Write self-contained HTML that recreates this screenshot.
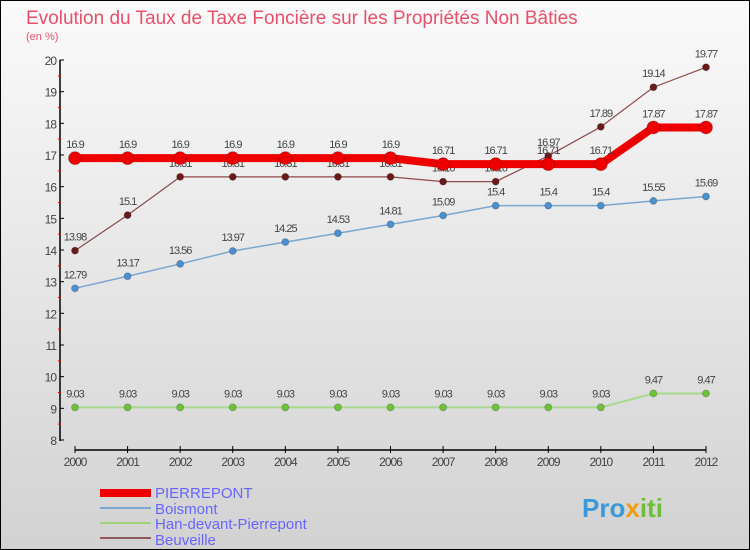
<!DOCTYPE html>
<html><head><meta charset="utf-8"><style>
body{margin:0;width:750px;height:550px;overflow:hidden;font-family:"Liberation Sans",sans-serif}
#c{position:absolute;left:0;top:0;width:748px;height:548px;border:1px solid #000;background:linear-gradient(#fafafa,#d2d2d2)}
</style></head><body>
<div id="c">
<svg id="s" width="750" height="550" style="position:absolute;left:-1px;top:-1px">
<text x="26" y="24" font-size="19" fill="#e8506a">Evolution du Taux de Taxe Foncière sur les Propriétés Non Bâties</text>
<text x="26" y="40" font-size="11" fill="#e8506a">(en %)</text>
<g id="axes"></g><g id="series"></g>
<g font-size="15" fill="#6666ff">
<rect x="100" y="489" width="51" height="8" fill="#e00"/>
<text x="155" y="498">PIERREPONT</text>
<rect x="100" y="507" width="51" height="2" fill="#7aa6cf"/>
<text x="155" y="514">Boismont</text>
<rect x="100" y="522" width="51" height="2" fill="#9fd27a"/>
<text x="155" y="529">Han-devant-Pierrepont</text>
<rect x="100" y="537" width="51" height="2" fill="#8e5a5a"/>
<text x="155" y="545">Beuveille</text>
</g>
<text x="582" y="517" font-size="26" font-weight="bold" fill="#3a9ad9">Pro<tspan fill="#f39c12">x</tspan><tspan fill="#6dbf3a">iti</tspan></text>
</svg></div>
<script>
const years=[2000,2001,2002,2003,2004,2005,2006,2007,2008,2009,2010,2011,2012];
const yTicks=[8,9,10,11,12,13,14,15,16,17,18,19,20];
const pierrepont=[16.9,16.9,16.9,16.9,16.9,16.9,16.9,16.71,16.71,16.71,16.71,17.87,17.87];
const boismont=[12.79,13.17,13.56,13.97,14.25,14.53,14.81,15.09,15.4,15.4,15.4,15.55,15.69];
const han=[9.03,9.03,9.03,9.03,9.03,9.03,9.03,9.03,9.03,9.03,9.03,9.47,9.47];
const beuveille=[13.98,15.1,16.31,16.31,16.31,16.31,16.31,16.16,16.16,16.97,17.89,19.14,19.77];
const NS="http://www.w3.org/2000/svg";
function X(i){return 75+(706-75)*i/(years.length-1);}
function Y(v){return 440-(v-8)*(380/12);}
function mk(t,a,p){const e=document.createElementNS(NS,t);for(const k in a)e.setAttribute(k,a[k]);p.appendChild(e);return e;}
const ax=document.getElementById('axes');
const yl=mk('line',{x1:60,y1:60,x2:60,y2:441,stroke:'#000','stroke-width':1.5},ax);


yTicks.forEach(v=>{
 mk('line',{x1:60,y1:Y(v),x2:64,y2:Y(v),stroke:'#000'},ax);
 if(v<20)mk('line',{x1:58,y1:Y(v+0.5),x2:61,y2:Y(v+0.5),stroke:'#e00'},ax);
 const t=mk('text',{x:56,y:Y(v)+5,'text-anchor':'end','font-size':12,fill:'#444','letter-spacing':'-1'},ax);
 t.textContent=v;
 
 
});
const xl=mk('line',{x1:75,y1:450,x2:706,y2:450,stroke:'#000','stroke-width':1.5},ax);


years.forEach((y,i)=>{
 mk('line',{x1:X(i),y1:446,x2:X(i),y2:453,stroke:'#000'},ax);
 const t=mk('text',{x:X(i),y:466,'text-anchor':'middle','font-size':12,fill:'#444','letter-spacing':'-1'},ax);
 t.textContent=y;
 
 
});
const sg=document.getElementById('series');
function draw(name,data,col,dot,w,r){
 const g=mk('g',{},sg);
 
 
 mk('polyline',{points:data.map((v,i)=>X(i)+','+Y(v)).join(' '),fill:'none',stroke:col,'stroke-width':w},g);
 data.forEach((v,i)=>{
  const c=mk('circle',{cx:X(i),cy:Y(v),r:r,fill:dot,stroke:'#0003'},g);
  
  
  const t=mk('text',{x:X(i),y:Y(v)-10,'text-anchor':'middle','font-size':11,fill:'#444','letter-spacing':'-1'},g);
  t.textContent=v;
  
  
 });
}
draw('han',han,'#a9d98a','#6cc33a',2,3.5);
draw('boismont',boismont,'#7aa6cf','#4a90cf',1.5,3.5);
draw('beuveille',beuveille,'#8e4a4a','#6a1a1a',1.2,3.5);
draw('pierrepont',pierrepont,'#e00','#e00',8,6.5);
</script>
</body></html>
